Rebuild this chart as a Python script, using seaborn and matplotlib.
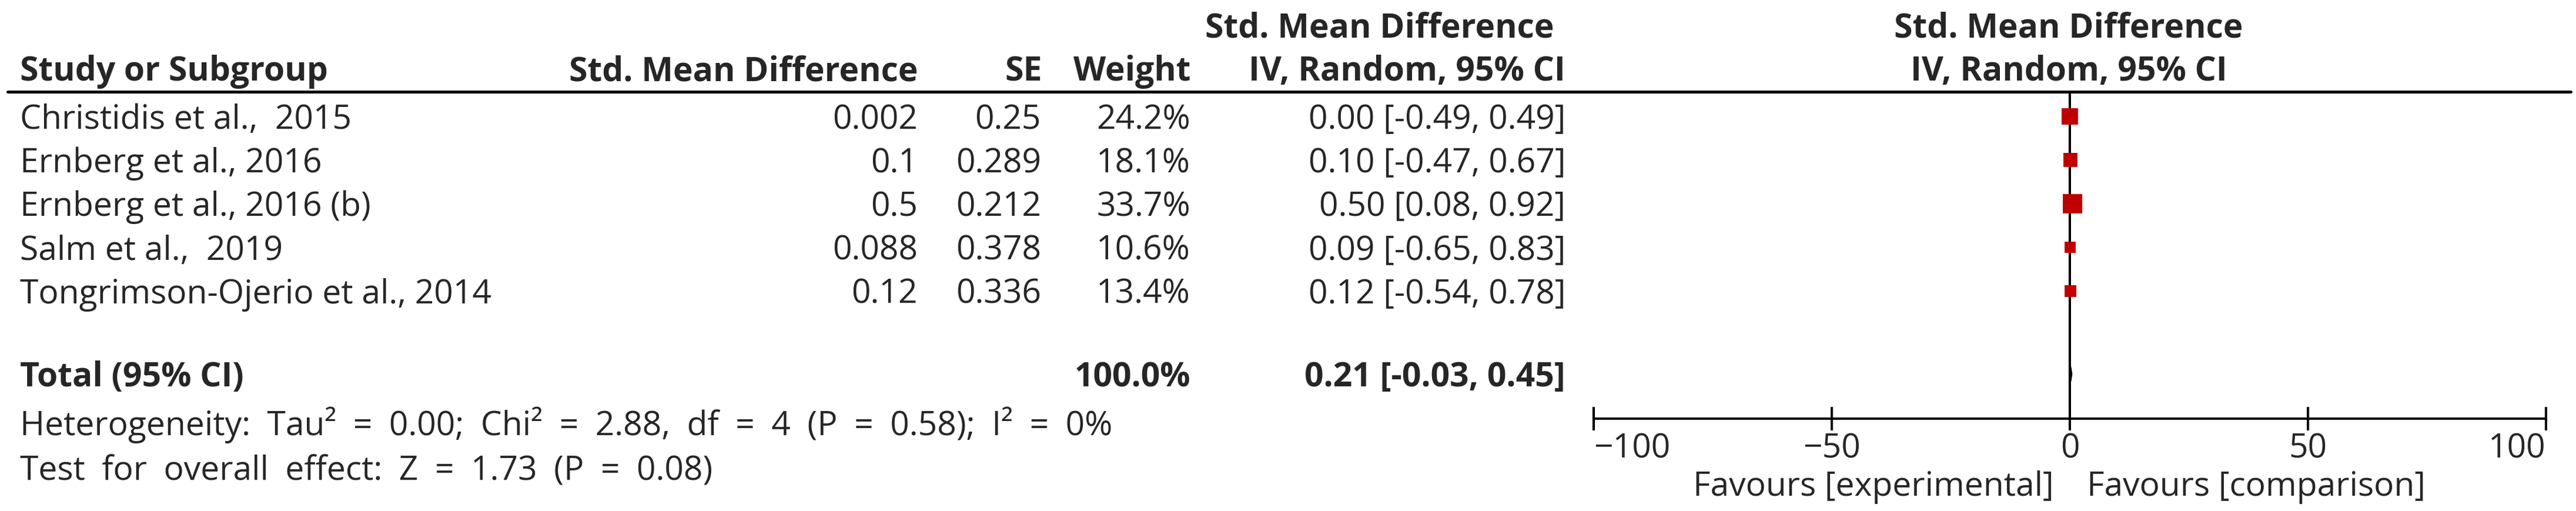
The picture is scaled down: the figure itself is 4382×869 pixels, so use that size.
import matplotlib
matplotlib.use('Agg')
import matplotlib.pyplot as plt
import numpy as np
import seaborn as sns

# forest plot data
studies = ["Christidis et al.,  2015", "Ernberg et al., 2016", "Ernberg et al., 2016 (b)",
           "Salm et al.,  2019", "Tongrimson-Ojerio et al., 2014"]
smd = [0.002, 0.1, 0.5, 0.088, 0.12]
se = [0.25, 0.289, 0.212, 0.378, 0.336]
weight = [24.2, 18.1, 33.7, 10.6, 13.4]
ci_est = [0.00, 0.10, 0.50, 0.09, 0.12]
ci_lo = [-0.49, -0.47, 0.08, -0.65, -0.54]
ci_hi = [0.49, 0.67, 0.92, 0.83, 0.78]
total_weight = 100.0
total_est, total_lo, total_hi = 0.21, -0.03, 0.45
heterogeneity = "Heterogeneity: Tau² = 0.00; Chi² = 2.88, df = 4 (P = 0.58); I² = 0%"
overall_test = "Test for overall effect: Z = 1.73 (P = 0.08)"
x_ticks = [-100, -50, 0, 50, 100]
favours_left = "Favours [experimental]"
favours_right = "Favours [comparison]"

sns.set_style('white')
plt.rcParams['font.family'] = ['Open Sans', 'DejaVu Sans']

W, H = 4382, 870
fig = plt.figure(figsize=(W / 100, H / 100), dpi=100)

# layout in pixels
row0 = 199        # centre of first study row
step = 74.25      # row spacing
header_y = 157
axis_y = 713
x_left, x_right = 2711, 4331
fs = 41
red = '#C00000'

# table layer in pixel coordinates
tab = fig.add_axes([0, 0, 1, 1])
tab.set_xlim(0, W)
tab.set_ylim(H, 0)
tab.axis('off')

tab.axhline(header_y, xmin=13 / W, xmax=4373 / W, color='black', lw=3.6)

bold = dict(fontsize=fs, fontweight='bold', va='baseline')
norm = dict(fontsize=fs, va='baseline')
tab.text(34, 137, "Study or Subgroup", ha='left', **bold)
tab.text(1561, 137, "Std. Mean Difference", ha='right', **bold)
tab.text(1773, 137, "SE", ha='right', **bold)
tab.text(2025, 137, "Weight", ha='right', **bold)
tab.text(2643, 63, "Std. Mean Difference", ha='right', **bold)
tab.text(2663, 137, "IV, Random, 95% CI", ha='right', **bold)
tab.text(3519, 63, "Std. Mean Difference", ha='center', **bold)
tab.text(3519, 137, "IV, Random, 95% CI", ha='center', **bold)

for i, name in enumerate(studies):
    yb = row0 + i * step + 20
    tab.text(34, yb, name, ha='left', **norm)
    tab.text(1561, yb, str(smd[i]), ha='right', **norm)
    tab.text(1771, yb, str(se[i]), ha='right', **norm)
    tab.text(2025, yb, f"{weight[i]:.1f}%", ha='right', **norm)
    tab.text(2663, yb, f"{ci_est[i]:.2f} [{ci_lo[i]:.2f}, {ci_hi[i]:.2f}]", ha='right', **norm)

total_y = row0 + (len(studies) + 0.9) * step
tab.text(34, total_y + 20, "Total (95% CI)", ha='left', **bold)
tab.text(2025, total_y + 20, f"{total_weight:.1f}%", ha='right', **bold)
tab.text(2663, total_y + 20, f"{total_est:.2f} [{total_lo:.2f}, {total_hi:.2f}]", ha='right', **bold)
# footer lines are set with wider word spacing in the original
tab.text(34, 740, heterogeneity.replace(' ', '\u2002'), ha='left', **norm)
tab.text(34, 817, overall_test.replace(' ', '\u2002'), ha='left', **norm)
tab.text(3494, 843, favours_left, ha='right', **norm)
tab.text(3550, 843, favours_right, ha='left', **norm)

# forest panel
ax = fig.add_axes([x_left / W, (H - axis_y) / H, (x_right - x_left) / W, (axis_y - header_y) / H])
ax.patch.set_alpha(0)
rows = np.arange(len(studies))
ax.set_xlim(x_ticks[0], x_ticks[-1])
ax.set_ylim((axis_y - row0) / step, (header_y - row0) / step)

ax.axvline(0, color='black', lw=2.88, zorder=1)
ax.hlines(rows, ci_lo, ci_hi, color='black', lw=1.5, zorder=2)
k = 16.8  # marker area (pt^2) per % weight
sns.scatterplot(x=ci_est, y=rows, size=weight, sizes=(min(weight) * k, max(weight) * k),
                size_norm=(min(weight), max(weight)), marker='s', color=red,
                linewidth=0, legend=False, ax=ax, zorder=3)

ty = len(studies) + 0.9
dh = 12.5 / step
ax.fill([total_lo, total_est, total_hi, total_est], [ty, ty - dh, ty, ty + dh],
        color='black', lw=1, zorder=4)

for s in ['top', 'left', 'right']:
    ax.spines[s].set_visible(False)
ax.spines['bottom'].set_linewidth(2.88)
ax.spines['bottom'].set_color('black')
ax.set_yticks([])
ax.set_xticks(x_ticks)
ax.tick_params(axis='x', bottom=True, direction='inout', length=28.8, width=2.88,
               color='black', labelsize=fs, pad=2)
labels = ax.get_xticklabels()
labels[0].set_ha('left')
labels[-1].set_ha('right')
ax.set_xlabel('')
ax.set_ylabel('')

fig.savefig('out.png', dpi=100)
